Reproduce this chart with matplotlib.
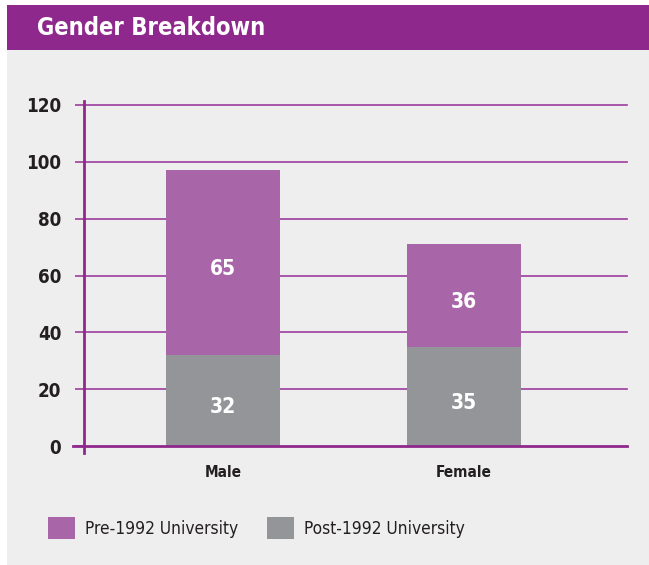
import matplotlib
matplotlib.use("Agg")
import matplotlib.pyplot as plt
from matplotlib.patches import Rectangle, Patch

plt.rcParams['font.family'] = ['DejaVu Sans']
plt.rcParams['font.stretch'] = 'condensed'

categories = ['Male', 'Female']
pre_1992 = [65, 36]
post_1992 = [32, 35]
series_names = ['Pre-1992 University', 'Post-1992 University']
y_ticks = [0, 20, 40, 60, 80, 100, 120]

PURPLE_HEAD = '#8f288c'
PURPLE_BAR = '#a866a9'
GREY_BAR = '#939598'
GRID = '#9c3d9d'
PANEL = '#eeeeee'
TEXT = '#231f20'

W, H = 649, 565
fig = plt.figure(figsize=(W / 100, H / 100), dpi=100)
fig.patch.set_facecolor('white')

# background panel and header band
fig.patches.append(Rectangle((7 / W, 0), 1, 1 - 50 / H, transform=fig.transFigure,
                             facecolor=PANEL, edgecolor='none', zorder=-2))
fig.patches.append(Rectangle((7 / W, 1 - 50 / H), 1, 45 / H, transform=fig.transFigure,
                             facecolor=PURPLE_HEAD, edgecolor='none', zorder=-2))
fig.text(37 / W, 1 - 28 / H, 'Gender Breakdown', color='white', fontsize=17,
         fontweight='bold', va='center', ha='left')

ax = fig.add_axes([84 / W, 119 / H, 543 / W, 341 / H])
ax.set_facecolor('none')
ax.set_xlim(-0.58, 1.68)
ax.set_ylim(0, 120)

x = list(range(len(categories)))
bw = 0.475
ax.bar(x, post_1992, width=bw, color=GREY_BAR, zorder=3)
ax.bar(x, pre_1992, width=bw, bottom=post_1992, color=PURPLE_BAR, zorder=3)

for i in x:
    ax.text(i, post_1992[i] / 2 - 2.2, str(post_1992[i]), color='white',
            fontsize=15, fontweight='bold', ha='center', va='center', zorder=4)
    ax.text(i, post_1992[i] + pre_1992[i] / 2 - 2.2, str(pre_1992[i]), color='white',
            fontsize=15, fontweight='bold', ha='center', va='center', zorder=4)

for t in y_ticks[1:]:
    ax.axhline(t, color=GRID, lw=1.2, zorder=1, clip_on=False)

for s in ['top', 'right']:
    ax.spines[s].set_visible(False)
ax.spines['left'].set_color(PURPLE_HEAD)
ax.spines['left'].set_linewidth(2)
ax.spines['left'].set_bounds(-2.3, 121.5)
ax.spines['bottom'].set_color(PURPLE_HEAD)
ax.spines['bottom'].set_linewidth(2)
ax.spines['bottom'].set_bounds(-0.626, 1.68)
ax.spines['bottom'].set_zorder(5)

ax.set_yticks(y_ticks)
ax.set_yticklabels([str(t) for t in y_ticks], fontsize=13.5, fontweight='bold',
                   color=TEXT)
ax.tick_params(axis='y', length=6.5, width=1.2, color=GRID, pad=10)
ax.set_xticks(x)
ax.set_xticklabels(categories, fontsize=11, fontweight='bold', color=TEXT)
ax.tick_params(axis='x', length=0, pad=14)

handles = [Patch(facecolor=PURPLE_BAR), Patch(facecolor=GREY_BAR)]
fig.legend(handles, series_names, loc='center left',
           bbox_to_anchor=(48 / W, 1 - 528 / H), ncol=2, frameon=False,
           fontsize=12.4, handlelength=1.57, handleheight=1.57, handletextpad=0.58,
           columnspacing=1.7, borderpad=0, borderaxespad=0, labelcolor=TEXT)

fig.savefig('out.png', dpi=100, facecolor=fig.get_facecolor())
